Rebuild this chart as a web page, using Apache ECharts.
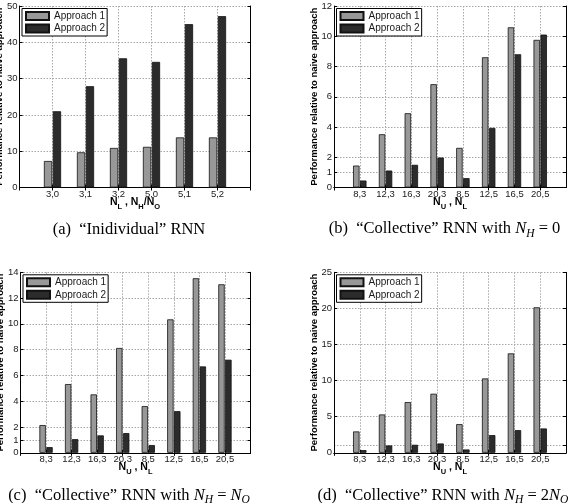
<!DOCTYPE html>
<html><head><meta charset="utf-8">
<script src="https://cdn.jsdelivr.net/npm/echarts@6/dist/echarts.min.js"></script>
<style>html,body{margin:0;padding:0;background:#fff}#c{width:568px;height:503px}</style>
</head><body><div id="c"></div>
<script>
const seriesNames = ['Approach 1', 'Approach 2'];
const catsA = ['3,0', '3,1', '3,2', '5,0', '5,1', '5,2'];
const catsBCD = ['8,3', '12,3', '16,3', '20,3', '8,5', '12,5', '16,5', '20,5'];
const a1A = [7.3, 9.7, 10.9, 11.2, 13.8, 13.8];
const a2A = [21.0, 27.9, 35.6, 34.6, 45.0, 47.2];
const a1B = [1.45, 3.52, 4.91, 6.83, 2.62, 8.61, 10.59, 9.76];
const a2B = [0.46, 1.12, 1.5, 1.98, 0.62, 3.94, 8.81, 10.11];
const a1C = [2.15, 5.33, 4.53, 8.13, 3.62, 10.35, 13.54, 13.07];
const a2C = [0.44, 1.06, 1.35, 1.53, 0.6, 3.23, 6.7, 7.22];
const a1D = [2.96, 5.31, 7.02, 8.18, 3.97, 10.3, 13.77, 20.15];
const a2D = [0.37, 1.02, 1.11, 1.29, 0.46, 2.45, 3.14, 3.37];
const ticksA = [0, 10, 20, 30, 40, 50];
const ticksB = [0, 1, 2, 4, 6, 8, 10, 12];
const ticksC = [0, 1, 2, 4, 6, 8, 10, 12, 14];
const ticksD = [0, 1, 5, 10, 15, 20, 25];
const yName = 'Performance relative to naive approach';
const xNameA = '{n|N}{s|L}{n| , N}{s|H}{n|/N}{s|O}';
const xNameU = '{n|N}{s|U}{n| , N}{s|L}';
const capA = '{t|(a)  \u201CInidividual\u201D RNN}';
const capB = '{t|(b)  \u201CCollective\u201D RNN with }{i|N}{si|H}{t| = 0}';
const capC = '{t|(c)  \u201CCollective\u201D RNN with }{i|N}{si|H}{t| = }{i|N}{si|O}';
const capD = '{t|(d)  \u201CCollective\u201D RNN with }{i|N}{si|H}{t| = 2}{i|N}{si|O}';

const colors = ['#989898', '#2c2c2c'];
const panels = [
  {cats: catsA, s1: a1A, s2: a2A, ticks: ticksA, grid: {left: 19.5, top: 6, width: 231, height: 181.5}, xname: xNameA, cap: capA, capX: 129, capY: 230},
  {cats: catsBCD, s1: a1B, s2: a2B, ticks: ticksB, grid: {left: 334, top: 6, width: 232, height: 181.5}, xname: xNameU, cap: capB, capX: 444.5, capY: 229},
  {cats: catsBCD, s1: a1C, s2: a2C, ticks: ticksC, grid: {left: 20.5, top: 272.3, width: 230, height: 180.5}, xname: xNameU, cap: capC, capX: 129, capY: 495.5},
  {cats: catsBCD, s1: a1D, s2: a2D, ticks: ticksD, grid: {left: 334, top: 272.3, width: 232, height: 180.5}, xname: xNameU, cap: capD, capX: 317.5, capY: 495.5, capAlign: 'left'}
];

const mkAxisLine = () => ({show: true, lineStyle: {color: '#000', width: 1}});
const mkGridLine = () => ({show: true, lineStyle: {type: [1.5, 1.5], color: '#a8a8a8', width: 1}});
const grid = [], xAxis = [], yAxis = [], series = [], legend = [], graphic = [];
const subRich = {
  n: {fontFamily: 'Liberation Sans', fontWeight: 'bold', fontSize: 10.5, color: '#000'},
  s: {fontFamily: 'Liberation Sans', fontWeight: 'bold', fontSize: 7.5, color: '#000', padding: [9, 0, 0, 0]}
};
panels.forEach((p, i) => {
  grid.push(Object.assign({show: false, outerBoundsMode: 'none', containLabel: false}, p.grid));
  const padCats = [''].concat(p.cats, ['']);
  const pad = arr => [null].concat(arr, [null]);
  const yMax = p.ticks[p.ticks.length - 1];
  xAxis.push({
    gridIndex: i, type: 'category', data: padCats, boundaryGap: false, position: 'bottom',
    axisLine: mkAxisLine(), axisTick: {show: true, inside: true, length: 3, lineStyle: {color: '#000'}},
    axisLabel: {show: true, margin: 2, fontFamily: 'Liberation Sans', fontSize: 9.5, color: '#1a1a1a', interval: 0},
    splitLine: mkGridLine(),
    name: p.xname, nameLocation: 'middle', nameGap: 6, nameMoveOverlap: false,
    nameTextStyle: {rich: subRich, verticalAlign: 'top'}
  });
  xAxis.push({
    gridIndex: i, type: 'category', data: padCats, boundaryGap: false, position: 'top',
    axisLine: mkAxisLine(), axisTick: {show: true, inside: true, length: 3, lineStyle: {color: '#000'}},
    axisLabel: {show: false}, splitLine: {show: false}
  });
  yAxis.push({
    gridIndex: i, type: 'value', min: 0, max: yMax, interval: 1, position: 'left',
    axisLine: mkAxisLine(), axisTick: {show: true, inside: true, length: 3, customValues: p.ticks, lineStyle: {color: '#000'}},
    axisLabel: {show: true, margin: 2, customValues: p.ticks, showMinLabel: true, showMaxLabel: true, hideOverlap: false,
      fontFamily: 'Liberation Sans', fontSize: 9.5, color: '#1a1a1a'},
    splitLine: mkGridLine(),
    name: yName, nameLocation: 'middle', nameGap: 15, nameMoveOverlap: false,
    nameTextStyle: {fontFamily: 'Liberation Sans', fontWeight: 'bold', fontSize: 9.5, color: '#000'}
  });
  yAxis.push({
    gridIndex: i, type: 'value', min: 0, max: yMax, interval: 1, position: 'right',
    axisLine: mkAxisLine(), axisTick: {show: true, inside: true, length: 3, customValues: p.ticks, lineStyle: {color: '#000'}},
    axisLabel: {show: false}, splitLine: {show: false}
  });
  [p.s1, p.s2].forEach((vals, k) => {
    series.push({
      type: 'bar', name: seriesNames[k], xAxisIndex: 2 * i, yAxisIndex: 2 * i,
      data: pad(vals), barWidth: '25%', barGap: '8%',
      itemStyle: {color: colors[k], borderColor: '#111', borderWidth: 0.8},
      emphasis: {disabled: true}
    });
  });
  legend.push({
    data: seriesNames, orient: 'vertical', left: p.grid.left + 2.5, top: p.grid.top + 2.5,
    backgroundColor: '#fff', borderColor: '#000', borderWidth: 1, padding: [2, 2, 2, 3],
    itemGap: 1.5, itemWidth: 23, itemHeight: 8, icon: 'rect', selectedMode: false,
    textStyle: {fontFamily: 'Liberation Sans', fontSize: 10, color: '#1a1a1a', lineHeight: 11}
  });
  graphic.push({
    type: 'text', x: p.capX, y: p.capY,
    style: {
      text: p.cap, align: p.capAlign || 'center', verticalAlign: 'middle',
      rich: {
        t: {fontFamily: 'Liberation Serif', fontSize: 16.5, color: '#222'},
        i: {fontFamily: 'Liberation Serif', fontStyle: 'italic', fontSize: 16.5, color: '#222'},
        si: {fontFamily: 'Liberation Serif', fontStyle: 'italic', fontSize: 11.5, color: '#222', padding: [9, 0, 0, 0]}
      }
    }
  });
});

const chart = echarts.init(document.getElementById('c'));
chart.setOption({backgroundColor: '#fff', animation: false, grid, xAxis, yAxis, series, legend, graphic});
</script></body></html>
